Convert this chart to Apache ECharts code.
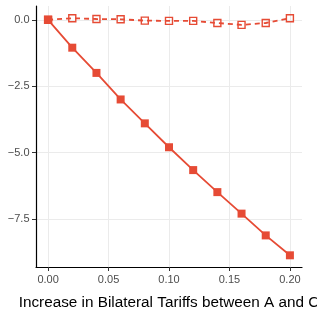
<!DOCTYPE html>
<html><head><meta charset="utf-8">
<script src="https://cdn.jsdelivr.net/npm/echarts@6/dist/echarts.min.js"></script>
<style>html,body{margin:0;padding:0;background:#fff}#c{width:317px;height:309px}</style>
</head><body><div id="c"></div>
<script>
const xValues = [0, 0.02, 0.04, 0.06, 0.08, 0.10, 0.12, 0.14, 0.16, 0.18, 0.20];
const solidValues = [0, -1.05, -2.0, -3.0, -3.9, -4.8, -5.66, -6.49, -7.3, -8.12, -8.87];
const dashedValues = [0, 0.06, 0.03, 0.02, -0.03, -0.04, -0.04, -0.12, -0.19, -0.12, 0.06];
const xTicks = [0, 0.05, 0.10, 0.15, 0.20];
const yTicks = [0, -2.5, -5.0, -7.5];
const xTitle = 'Increase in Bilateral Tariffs between A and C';

const color = '#E64B35';
const font = 'Liberation Sans, Arial, sans-serif';
const chart = echarts.init(document.getElementById('c'), null, {renderer: 'canvas'});
const pair = (ys) => xValues.map((x, i) => [x, ys[i]]);
chart.setOption({
  animation: false,
  grid: {left: 36, right: 15, top: 6, bottom: 42, containLabel: false, outerBoundsMode: 'none'},
  xAxis: {
    type: 'value', min: -0.01, max: 0.21,
    name: xTitle, nameLocation: 'middle', nameGap: 28,
    nameTextStyle: {fontFamily: font, fontSize: 15.3, color: '#000'},
    axisLine: {show: true, onZero: false, lineStyle: {color: '#000', width: 1.2}},
    axisTick: {show: true, customValues: xTicks, length: 4, lineStyle: {color: '#333', width: 1}},
    axisLabel: {customValues: xTicks, fontFamily: font, fontSize: 11, color: '#4D4D4D', margin: 7,
      formatter: v => v.toFixed(2)},
    splitLine: {show: false}
  },
  yAxis: {
    type: 'value', min: -9.31, max: 0.52,
    axisLine: {show: true, onZero: false, lineStyle: {color: '#000', width: 1.2}},
    axisTick: {show: true, customValues: yTicks, length: 4, lineStyle: {color: '#333', width: 1}},
    axisLabel: {customValues: yTicks, fontFamily: font, fontSize: 11, color: '#4D4D4D', margin: 6.5,
      formatter: v => v.toFixed(1).replace('-', '\u2212')},
    splitLine: {show: false}
  },
  series: [
    {
      type: 'line', data: [], z: 0, silent: true,
      markLine: {
        silent: true, symbol: 'none', animation: false, z: 0,
        label: {show: false},
        lineStyle: {color: '#EBEBEB', width: 1, type: 'solid'},
        data: xTicks.map(v => ({xAxis: v})).concat(yTicks.map(v => ({yAxis: v})))
      }
    },
    {
      type: 'line', data: pair(dashedValues), z: 2,
      symbol: 'rect', symbolSize: 7,
      itemStyle: {color: 'rgba(0,0,0,0)', borderColor: color, borderWidth: 1.4},
      lineStyle: {color: color, width: 1.8, type: [5, 4]}
    },
    {
      type: 'line', data: pair(solidValues), z: 3,
      symbol: 'rect', symbolSize: 8,
      itemStyle: {color: color, borderWidth: 0},
      lineStyle: {color: color, width: 1.8}
    }
  ]
});
</script></body></html>
